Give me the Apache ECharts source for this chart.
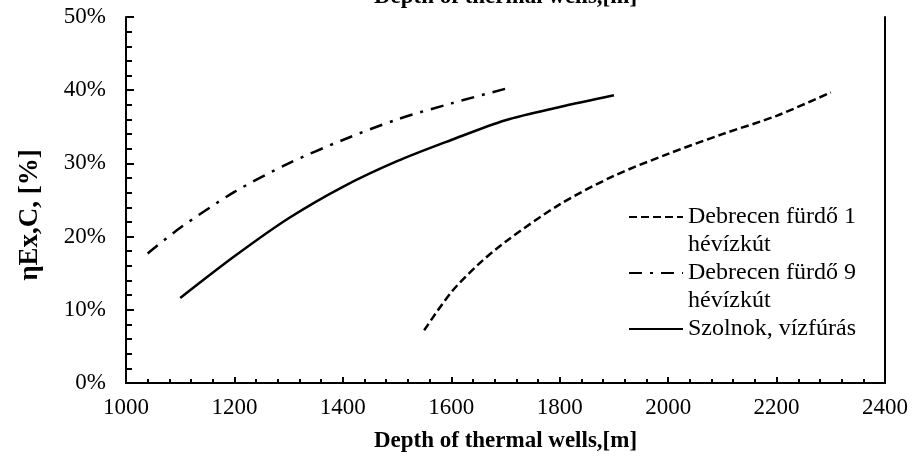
<!DOCTYPE html>
<html>
<head>
<meta charset="utf-8">
<script src="https://cdn.jsdelivr.net/npm/echarts@6/dist/echarts.min.js"></script>
<style>
  html, body { margin: 0; padding: 0; background: #fff; }
  #chart { width: 917px; height: 464px; }
</style>
</head>
<body>
<div id="chart"></div>
<script>
// depth [m] / exergy efficiency [%]
var deb1Depth = [1550, 1600, 1650, 1700, 1800, 1900, 2000, 2100, 2200, 2300];
var deb1Eff   = [7.2, 12.4, 16.2, 19.3, 24.4, 28.3, 31.3, 34.0, 36.5, 39.7];

var deb9Depth = [1040, 1100, 1200, 1300, 1400, 1500, 1600, 1700];
var deb9Eff   = [17.7, 21.2, 26.1, 30.0, 33.2, 36.0, 38.2, 40.2];

var szolDepth = [1100, 1200, 1300, 1400, 1500, 1600, 1700, 1800, 1900];
var szolEff   = [11.6, 17.3, 22.5, 26.8, 30.3, 33.2, 35.9, 37.7, 39.3];

var seriesNames = ['Debrecen fürdő 1 hévízkút', 'Debrecen fürdő 9 hévízkút', 'Szolnok, vízfúrás'];
// blank first line keeps the legend line level with the first row of text
var legendText = ['\nDebrecen fürdő 1\nhévízkút', '\nDebrecen fürdő 9\nhévízkút', '\nSzolnok, vízfúrás\n'];

function pairs(xs, ys) {
    return xs.map(function (x, i) { return [x, ys[i]]; });
}

var serif = "'Liberation Serif', 'Times New Roman', serif";
var chart = echarts.init(document.getElementById('chart'));

var option = {
    backgroundColor: '#fff',
    animation: false,
    textStyle: { fontFamily: serif, color: '#000' },
    grid: { left: 126, right: 32, top: 17, bottom: 81, outerBoundsMode: 'none' },
    legend: {
        orient: 'vertical',
        left: 628,
        top: 175,
        padding: 0,
        itemWidth: 54,
        itemHeight: 14,
        itemGap: -28,
        itemStyle: { opacity: 0 },
        textStyle: { fontFamily: serif, fontSize: 24, color: '#000', lineHeight: 28 },
        data: seriesNames,
        formatter: function (name) {
            return legendText[seriesNames.indexOf(name)];
        }
    },
    xAxis: [
        {
            type: 'value',
            min: 1000,
            max: 2400,
            interval: 200,
            name: 'Depth of thermal wells,[m]',
            nameLocation: 'middle',
            nameGap: 47,
            nameTextStyle: { fontFamily: serif, fontSize: 23, fontWeight: 'bold', color: '#000' },
            axisLine: { lineStyle: { color: '#000', width: 2 } },
            axisTick: { inside: true, length: 6, lineStyle: { color: '#000', width: 2 } },
            minorTick: { show: true, splitNumber: 5, length: 4, lineStyle: { color: '#000', width: 2 } },
            axisLabel: {
                fontFamily: serif, fontSize: 23, color: '#000', margin: 13,
                formatter: function (v) { return String(v); }
            },
            splitLine: { show: false }
        },
        {
            type: 'value',
            position: 'top',
            min: 1000,
            max: 2400,
            name: 'Depth of thermal wells,[m]',
            nameLocation: 'middle',
            nameGap: 8,
            nameTextStyle: { fontFamily: serif, fontSize: 23, fontWeight: 'bold', color: '#000' },
            axisLine: { lineStyle: { color: '#000', width: 2 } },
            axisTick: { show: false },
            axisLabel: { show: false },
            splitLine: { show: false }
        }
    ],
    yAxis: [
        {
            type: 'value',
            min: 0,
            max: 50,
            interval: 10,
            name: 'ηEx,C, [%]',
            nameLocation: 'middle',
            nameGap: 82,
            nameTextStyle: { fontFamily: serif, fontSize: 27, fontWeight: 'bold', color: '#000', padding: [0, 30, 0, 0] },
            axisLine: { show: true, lineStyle: { color: '#000', width: 2 } },
            axisTick: { inside: true, length: 8, lineStyle: { color: '#000', width: 2 } },
            minorTick: { show: true, splitNumber: 5, length: 6, lineStyle: { color: '#000', width: 2 } },
            axisLabel: {
                fontFamily: serif, fontSize: 23, color: '#000', margin: 20,
                padding: [6, 0, 0, 0],
                formatter: '{value}%'
            },
            splitLine: { show: false }
        },
        {
            type: 'value',
            position: 'right',
            min: 0,
            max: 50,
            axisLine: { show: true, lineStyle: { color: '#000', width: 2 } },
            axisTick: { show: false },
            axisLabel: { show: false },
            splitLine: { show: false }
        }
    ],
    series: [
        {
            name: seriesNames[0],
            type: 'line',
            smooth: 0.3,
            symbol: 'none',
            lineStyle: { color: '#000', width: 2.5, type: [8, 4] },
            data: pairs(deb1Depth, deb1Eff)
        },
        {
            name: seriesNames[1],
            type: 'line',
            smooth: 0.3,
            symbol: 'none',
            lineStyle: { color: '#000', width: 2.5, type: [13, 8, 3, 8] },
            data: pairs(deb9Depth, deb9Eff)
        },
        {
            name: seriesNames[2],
            type: 'line',
            smooth: 0.3,
            symbol: 'none',
            lineStyle: { color: '#000', width: 2.5 },
            data: pairs(szolDepth, szolEff)
        }
    ]
};

chart.setOption(option);
</script>
</body>
</html>
